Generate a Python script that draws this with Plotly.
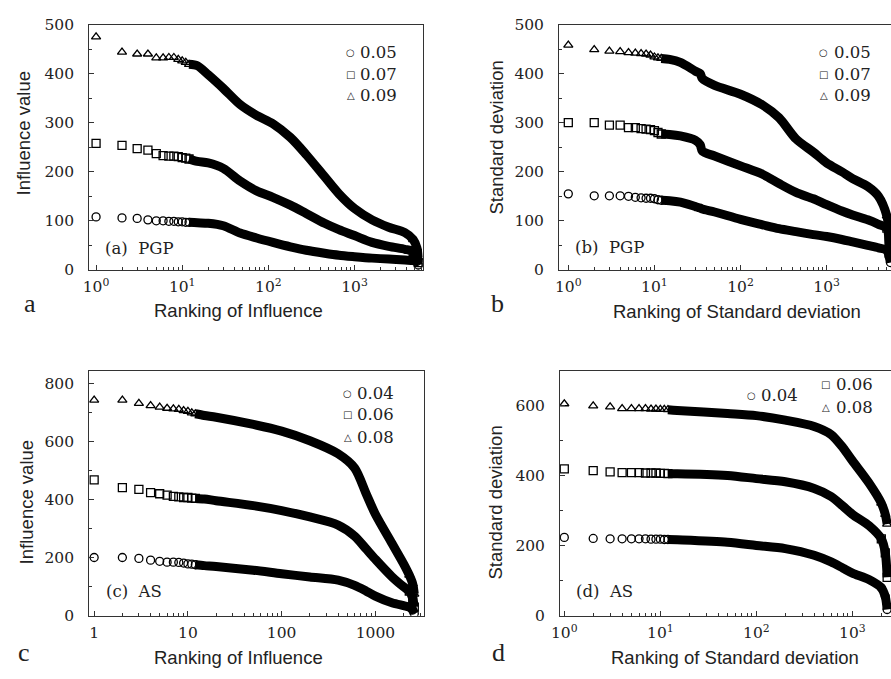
import plotly.graph_objects as go

W, H = 891, 679

# ---------------- data ----------------
head_rank = list(range(1, 13))

# (a) PGP - Influence value vs ranking
a_head_005 = [108, 106, 105, 102, 100, 100, 99, 99, 98, 98, 97, 97]
a_head_007 = [258, 254, 247, 244, 237, 233, 232, 232, 231, 229, 228, 226]
a_head_009 = [475, 444, 440, 440, 432, 432, 433, 433, 429, 426, 423, 419]
a_tail_rank = [12, 15, 20, 30, 47, 73, 113, 180, 275, 450, 660, 1000, 1600, 2500, 3850, 4800, 5300, 5500]
a_tail_005 = [97, 96, 95, 90, 75, 65, 56, 47, 40, 34, 30, 27, 24, 22, 20, 19, 17, 10]
a_tail_007 = [226, 221, 218, 207, 181, 161, 148, 132, 115, 95, 82, 70, 56, 48, 42, 38, 32, 15]
a_tail_009 = [419, 416, 398, 370, 337, 315, 298, 270, 235, 190, 155, 125, 102, 87, 76, 62, 45, 25]

# (b) PGP - Standard deviation vs ranking
b_head_005 = [155, 151, 151, 151, 150, 148, 147, 146, 146, 145, 143, 142]
b_head_007 = [300, 300, 295, 295, 290, 290, 288, 287, 286, 284, 280, 277]
b_head_009 = [458, 449, 446, 445, 443, 442, 441, 440, 438, 434, 432, 431]
b_tail_rank = [12, 15, 20, 30, 34, 36, 50, 100, 180, 280, 440, 700, 1000, 1500, 2000, 3000, 4000, 5000, 5300, 5500]
b_tail_005 = [142, 141, 138, 129, 126, 124, 118, 103, 92, 84, 78, 72, 68, 62, 57, 50, 45, 40, 28, 15]
b_tail_007 = [277, 276, 273, 264, 255, 242, 232, 212, 195, 176, 158, 145, 133, 120, 112, 102, 93, 85, 60, 35]
b_tail_009 = [431, 429, 423, 405, 400, 390, 376, 358, 336, 310, 267, 240, 218, 200, 186, 170, 150, 110, 80, 60]

# (c) AS - Influence value vs ranking
c_head_004 = [201, 201, 198, 192, 188, 185, 185, 184, 182, 179, 178, 176]
c_head_006 = [469, 442, 436, 425, 421, 416, 412, 410, 408, 408, 406, 405]
c_head_008 = [744, 744, 733, 725, 720, 716, 714, 712, 708, 705, 700, 697]
c_tail_rank = [12, 15, 20, 50, 100, 200, 400, 600, 800, 1000, 1500, 2000, 2300, 2500, 2600]
c_tail_004 = [176, 173, 170, 157, 145, 134, 123, 105, 85, 68, 45, 35, 30, 20, 8]
c_tail_006 = [405, 403, 397, 380, 363, 341, 313, 275, 230, 195, 135, 100, 85, 60, 30]
c_tail_008 = [697, 691, 685, 660, 637, 604, 559, 510, 420, 350, 250, 179, 140, 110, 75]

# (d) AS - Standard deviation vs ranking
d_head_004 = [224, 221, 220, 220, 220, 220, 220, 219, 219, 219, 218, 218]
d_head_006 = [420, 415, 411, 409, 409, 409, 408, 408, 408, 407, 407, 406]
d_head_008 = [606, 600, 597, 592, 592, 592, 592, 591, 591, 590, 590, 589]
d_tail_rank = [12, 15, 50, 100, 200, 400, 600, 800, 1000, 1500, 2000, 2200, 2300]
d_tail_004 = [218, 217, 210, 201, 192, 173, 154, 136, 122, 103, 80, 55, 18]
d_tail_006 = [406, 406, 401, 392, 383, 364, 341, 313, 290, 257, 220, 180, 110]
d_tail_008 = [589, 587, 578, 572, 559, 541, 518, 480, 443, 378, 322, 290, 262]

legend_pgp = ["0.05", "0.07", "0.09"]
legend_as = ["0.04", "0.06", "0.08"]
symbols = ["circle-open", "square-open", "triangle-up-open"]
glyphs = ["\u25CB", "\u25A1", "\u25B3"]

# ---------------- figure ----------------
INK = "#222222"
fig = go.Figure()

panels = [
    ("", [a_head_005, a_head_007, a_head_009], a_tail_rank, [a_tail_005, a_tail_007, a_tail_009]),
    ("2", [b_head_005, b_head_007, b_head_009], b_tail_rank, [b_tail_005, b_tail_007, b_tail_009]),
    ("3", [c_head_004, c_head_006, c_head_008], c_tail_rank, [c_tail_004, c_tail_006, c_tail_008]),
    ("4", [d_head_004, d_head_006, d_head_008], d_tail_rank, [d_tail_004, d_tail_006, d_tail_008]),
]

mk = lambda k: dict(symbol=symbols[k], size=8, color="black", line=dict(width=1.3))

for suf, heads, trank, tails in panels:
    for k in range(3):
        # dense part: overlapping markers rendered as a thick band
        fig.add_trace(go.Scatter(
            x=trank, y=tails[k], mode="lines",
            line=dict(color="black", width=9, shape="spline", smoothing=0.8),
            xaxis="x" + suf, yaxis="y" + suf, showlegend=False, hoverinfo="skip"))
        # last points of the tail, where markers separate again
        fig.add_trace(go.Scatter(
            x=trank[-3:], y=tails[k][-3:], mode="markers", marker=mk(k),
            xaxis="x" + suf, yaxis="y" + suf, showlegend=False, hoverinfo="skip"))
        # top-ranked, individually visible markers
        fig.add_trace(go.Scatter(
            x=head_rank, y=heads[k], mode="markers", marker=mk(k),
            xaxis="x" + suf, yaxis="y" + suf, showlegend=False, hoverinfo="skip"))


def px2x(px):
    return px / W


def py2y(py):
    return 1 - py / H


minor_log = [m * 10 ** e for e in range(0, 4) for m in range(2, 10)]

tickfont = dict(family="DejaVu Serif", size=15.5, color=INK)


def xax(dom, rng, labels, anchor, mirror=True):
    return dict(type="log", domain=dom, range=rng, anchor=anchor,
                showline=True, linecolor="#333", linewidth=1, mirror=mirror,
                ticks="inside", ticklen=5, tickcolor="#333",
                tickmode="array", tickvals=[1, 10, 100, 1000], ticktext=labels,
                minor=dict(ticks="inside", ticklen=3, tickcolor="#333",
                           tickmode="array", tickvals=minor_log, showgrid=False),
                showgrid=False, zeroline=False, tickfont=tickfont,
                ticklabelstandoff=3)


def yax(dom, rng, dtick, minor_dtick, anchor, mirror=True):
    return dict(domain=dom, range=rng, anchor=anchor,
                showline=True, linecolor="#333", linewidth=1, mirror=mirror,
                ticks="inside", ticklen=5, tickcolor="#333", dtick=dtick,
                minor=dict(ticks="inside", ticklen=3, tickcolor="#333",
                           dtick=minor_dtick, showgrid=False),
                showgrid=False, zeroline=False, tickfont=tickfont,
                ticklabelstandoff=11)


pow_labels = ["10<sup>0</sup>", "10<sup>1</sup>", "10<sup>2</sup>", "10<sup>3</sup>"]
plain_labels = ["1", "10", "100", "1000"]

top_dom = [py2y(268), py2y(16)]
bot_dom = [py2y(623.3), py2y(371.7)]

fig.update_layout(
    width=W, height=H,
    margin=dict(l=0, r=0, t=0, b=0),
    paper_bgcolor="white", plot_bgcolor="white",
    showlegend=False,
    xaxis=xax([px2x(81), px2x(418)], [-0.080, 3.793], pow_labels, "y"),
    yaxis=yax(top_dom, [0, 500], 100, 50, "x"),
    xaxis2=xax([px2x(555.7), 1.0], [-0.107, 3.747], pow_labels, "y2"),
    yaxis2=yax(top_dom, [0, 500], 100, 50, "x2", mirror=False),
    xaxis3=xax([px2x(81), px2x(419)], [-0.053, 3.516], plain_labels, "y3"),
    yaxis3=yax(bot_dom, [0, 845], 200, 100, "x3"),
    xaxis4=xax([px2x(556.7), 1.0], [-0.044, 3.402], pow_labels, "y4"),
    yaxis4=yax(bot_dom, [0, 700], 200, 100, "x4", mirror=False),
)

ann = []


def text(px, py, s, size, family, xanchor="center", angle=0):
    ann.append(dict(x=px2x(px), y=py2y(py), xref="paper", yref="paper", text=s,
                    showarrow=False, xanchor=xanchor, yanchor="middle", textangle=angle,
                    font=dict(size=size, family=family, color=INK)))


SANS = "Liberation Sans"
SERIF = "DejaVu Serif"
TS = 18.5

# axis titles
text(15, 128, "Influence value", TS, SANS, angle=-90)
text(232, 310, "Ranking of Influence", TS, SANS)
text(492, 132, "Standard deviation", TS, SANS, angle=-90)
text(735, 311, "Ranking of Standard deviation", TS, SANS)
text(18, 507, "Influence value", TS, SANS, angle=-90)
text(232, 666, "Ranking of Influence", TS, SANS)
text(492, 507, "Standard deviation", TS, SANS, angle=-90)
text(733, 666, "Ranking of Standard deviation", TS, SANS)

# panel letters
text(21, 303, "a", 26, "Liberation Serif")
text(493, 303, "b", 26, "Liberation Serif")
text(15, 661, "c", 26, "Liberation Serif")
text(494, 661, "d", 26, "Liberation Serif")

# in-panel labels
text(95, 246, "(a)  PGP", 16.5, SERIF, xanchor="left")
text(570, 245, "(b)  PGP", 16.5, SERIF, xanchor="left")
text(96, 598, "(c)  AS", 16.5, SERIF, xanchor="left")
text(571, 598, "(d)  AS", 16.5, SERIF, xanchor="left")


# legends
def leg(mx, my, k, label):
    text(mx, my, glyphs[k], 10, "DejaVu Sans")
    text(mx + 8, my, label, 16.5, SERIF, xanchor="left")


for k, yy in enumerate([45, 67, 89]):
    leg(345, yy, k, legend_pgp[k])
    leg(823, yy, k, legend_pgp[k])
for k, yy in enumerate([395, 417, 440]):
    leg(342, yy, k, legend_as[k])
leg(750, 397, 0, legend_as[0])
leg(825, 386, 1, legend_as[1])
leg(825, 409, 2, legend_as[2])

fig.update_layout(annotations=ann)

fig.write_html("out.html")
